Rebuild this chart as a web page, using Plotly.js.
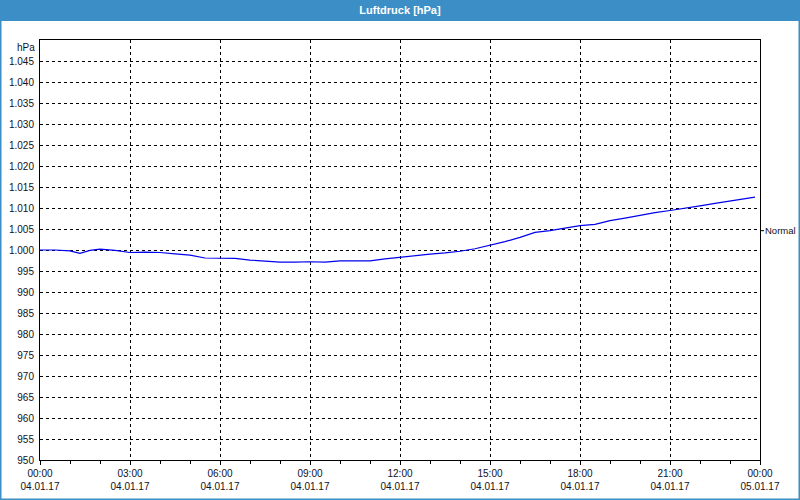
<!DOCTYPE html>
<html>
<head>
<meta charset="utf-8">
<script src="https://cdn.plot.ly/plotly-3.0.1.min.js"></script>
<style>
html,body{margin:0;padding:0;background:#fff;}
#chart{width:800px;height:500px;}
</style>
</head>
<body>
<div id="chart"></div>
<script>
// Time stamps (04.01.2017) and air pressure values in hPa
var times = [
  "2017-01-04 00:00","2017-01-04 00:30","2017-01-04 01:00","2017-01-04 01:20","2017-01-04 01:40",
  "2017-01-04 02:00","2017-01-04 02:30","2017-01-04 03:00","2017-01-04 03:30","2017-01-04 04:00",
  "2017-01-04 04:30","2017-01-04 05:00","2017-01-04 05:30","2017-01-04 06:00","2017-01-04 06:30",
  "2017-01-04 07:00","2017-01-04 07:30","2017-01-04 08:00","2017-01-04 08:30","2017-01-04 09:00",
  "2017-01-04 09:30","2017-01-04 10:00","2017-01-04 10:30","2017-01-04 11:00","2017-01-04 11:30",
  "2017-01-04 12:00","2017-01-04 12:30","2017-01-04 13:00","2017-01-04 13:30","2017-01-04 14:00",
  "2017-01-04 14:30","2017-01-04 15:00","2017-01-04 15:30","2017-01-04 16:00","2017-01-04 16:30",
  "2017-01-04 17:00","2017-01-04 17:30","2017-01-04 18:00","2017-01-04 18:30","2017-01-04 19:00",
  "2017-01-04 19:30","2017-01-04 20:00","2017-01-04 20:30","2017-01-04 21:00","2017-01-04 21:30",
  "2017-01-04 22:00","2017-01-04 22:30","2017-01-04 23:00","2017-01-04 23:30","2017-01-04 23:50"
];
var pressure = [
  1000.0,1000.0,999.8,999.2,999.9,
  1000.2,999.9,999.4,999.5,999.4,
  999.1,998.8,998.1,998.0,998.0,
  997.6,997.3,997.1,997.1,997.2,
  997.1,997.4,997.4,997.4,997.9,
  998.3,998.6,999.0,999.3,999.7,
  1000.3,1001.1,1002.0,1003.0,1004.2,
  1004.6,1005.2,1005.8,1006.1,1007.0,
  1007.6,1008.3,1008.9,1009.4,1009.9,
  1010.5,1011.1,1011.6,1012.1,1012.6
];

// Tick labels
var xTickVals = [
  "2017-01-04 00:00","2017-01-04 03:00","2017-01-04 06:00","2017-01-04 09:00","2017-01-04 12:00",
  "2017-01-04 15:00","2017-01-04 18:00","2017-01-04 21:00","2017-01-05 00:00"
];
var xTickTimes = ["00:00","03:00","06:00","09:00","12:00","15:00","18:00","21:00","00:00"];
var xTickDates = ["04.01.17","04.01.17","04.01.17","04.01.17","04.01.17","04.01.17","04.01.17","04.01.17","05.01.17"];
var yTickVals = [950,955,960,965,970,975,980,985,990,995,1000,1005,1010,1015,1020,1025,1030,1035,1040,1045];
var yTickText = ["950","955","960","965","970","975","980","985","990","995","1.000","1.005","1.010","1.015","1.020","1.025","1.030","1.035","1.040","1.045"];
var normalLevel = 1004.6;

var xTickText = xTickTimes.map(function(t, i){ return t + "<br>" + xTickDates[i]; });

var font = "Liberation Sans, Arial, sans-serif";
var blue = "#3c8fc6";

var trace = {
  x: times, y: pressure, type: "scatter", mode: "lines",
  line: {color: "#0000ee", width: 1.2},
  hoverinfo: "x+y"
};

var PL = 720, PH = 420;
var layout = {
  width: 800, height: 500,
  margin: {l: 40, r: 40, t: 40, b: 40},
  paper_bgcolor: "#ffffff", plot_bgcolor: "#ffffff",
  showlegend: false,
  font: {family: font, size: 10, color: "#111122"},
  title: {
    text: "<b>Luftdruck [hPa]</b>",
    font: {family: font, size: 11, color: "#ffffff"},
    x: 0.5, xanchor: "center", y: 1 - 10.5/500, yanchor: "middle", yref: "container"
  },
  xaxis: {
    type: "date",
    range: ["2017-01-04 00:00", "2017-01-05 00:00"],
    tickmode: "array", tickvals: xTickVals, ticktext: xTickText,
    showgrid: true, gridcolor: "#000000", gridwidth: 1, griddash: "dot",
    showline: true, linecolor: "#000000", linewidth: 1, mirror: true,
    ticks: "outside", ticklen: 4, tickcolor: "#000000",
    minor: {dtick: 3600000, ticks: "outside", ticklen: 3, tickcolor: "#000000", showgrid: false},
    tickfont: {family: font, size: 10, color: "#111122"},
    zeroline: false, fixedrange: true
  },
  yaxis: {
    range: [950, 1050],
    tickmode: "array", tickvals: yTickVals, ticktext: yTickText,
    showgrid: true, gridcolor: "#000000", gridwidth: 1, griddash: "dot",
    showline: true, linecolor: "#000000", linewidth: 1, mirror: true,
    ticks: "", ticklabelstandoff: 3,
    tickfont: {family: font, size: 10, color: "#111122"},
    zeroline: false, fixedrange: true
  },
  shapes: [
    // title bar
    {type: "rect", xref: "paper", yref: "paper", layer: "below",
     x0: -40/PL, x1: 1 + 40/PL, y0: 1 + (40-21)/PH, y1: 1 + 40/PH,
     fillcolor: blue, line: {width: 0}},
    // window border
    {type: "rect", xref: "paper", yref: "paper", layer: "above",
     x0: -40/PL, x1: 1 + 40/PL, y0: -40/PH, y1: 1 + 40/PH,
     fillcolor: "rgba(0,0,0,0)", line: {color: blue, width: 3}},
    // Normal tick
    {type: "line", xref: "paper", yref: "y", x0: 1, x1: 1 + 4/PL, y0: normalLevel, y1: normalLevel,
     line: {color: "#000000", width: 1}}
  ],
  annotations: [
    {text: "hPa", xref: "paper", yref: "paper", x: -3/PL, y: 1, xanchor: "right", yanchor: "top",
     showarrow: false, font: {family: font, size: 10, color: "#111122"}},
    {text: "Normal", xref: "paper", yref: "y", x: 1 + 3/PL, y: normalLevel, xanchor: "left", yanchor: "middle",
     showarrow: false, font: {family: font, size: 9.5, color: "#111122"}}
  ]
};

Plotly.newPlot("chart", [trace], layout, {displayModeBar: false, staticPlot: true});
</script>
</body>
</html>
